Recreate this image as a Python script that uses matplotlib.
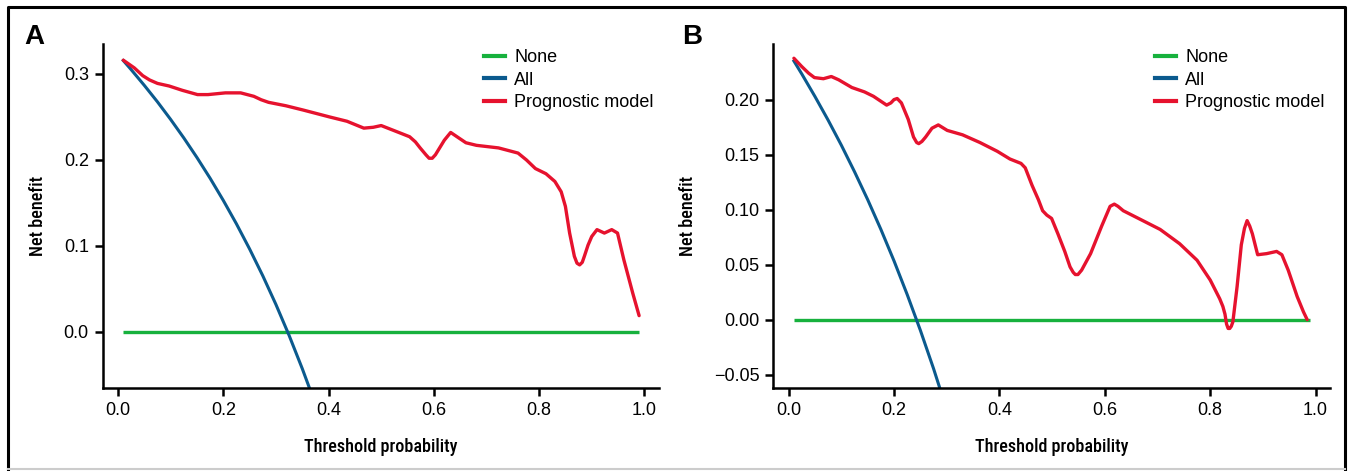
import matplotlib
matplotlib.use("Agg")
import matplotlib.pyplot as plt
from matplotlib.lines import Line2D
from matplotlib import font_manager

plt.rcParams['font.family'] = ['Liberation Sans', 'DejaVu Sans']

# pick a narrow family for the axis titles if one is there
names = set(f.name for f in font_manager.fontManager.ttflist)
label_family = ['Roboto']
for cand in ['Roboto Condensed', 'Liberation Sans Narrow', 'Open Sans Condensed', 'DejaVu Sans Condensed']:
    if cand in names:
        label_family = [cand]
        break
print(label_family, sorted(n for n in names if 'ondens' in n or 'arrow' in n))

# colours
c_none = '#17B13D'
c_all = '#0B5A8E'
c_model = '#E6122E'

# ---- panel A data ----
a_none_x = [0.01, 0.99]
a_none_y = [0.0, 0.0]

a_all_x = [0.01, 0.025, 0.05, 0.075, 0.10, 0.125, 0.15, 0.175, 0.20, 0.225,
           0.25, 0.275, 0.30, 0.325, 0.35, 0.37]
a_all_y = [0.3156, 0.3050, 0.2867, 0.2675, 0.2471, 0.2256, 0.2028, 0.1787, 0.1530, 0.1257,
           0.0965, 0.0654, 0.0320, -0.0039, -0.0425, -0.0756]

a_model_x = [0.010, 0.031, 0.047, 0.060, 0.075, 0.097, 0.122, 0.151, 0.171, 0.204,
             0.233, 0.258, 0.272, 0.286, 0.319, 0.352, 0.402, 0.435, 0.467, 0.485,
             0.500, 0.525, 0.554, 0.565, 0.574, 0.585, 0.591, 0.597, 0.603, 0.612,
             0.620, 0.632, 0.644, 0.661, 0.681, 0.723, 0.760, 0.776, 0.793, 0.813,
             0.830, 0.842, 0.850, 0.858, 0.867, 0.872, 0.877, 0.882, 0.886, 0.893,
             0.900, 0.910, 0.924, 0.938, 0.949, 0.961, 0.978, 0.990]
a_model_y = [0.316, 0.307, 0.298, 0.293, 0.289, 0.286, 0.281, 0.276, 0.276, 0.278,
             0.278, 0.274, 0.270, 0.267, 0.263, 0.258, 0.250, 0.245, 0.237, 0.238,
             0.240, 0.234, 0.227, 0.221, 0.214, 0.206, 0.202, 0.202, 0.206, 0.215,
             0.223, 0.232, 0.227, 0.220, 0.217, 0.214, 0.208, 0.200, 0.190, 0.184,
             0.175, 0.163, 0.146, 0.115, 0.088, 0.080, 0.078, 0.081, 0.088, 0.101,
             0.111, 0.119, 0.115, 0.119, 0.115, 0.084, 0.045, 0.019]

# ---- panel B data ----
b_none_x = [0.01, 0.99]
b_none_y = [0.0, 0.0]

b_all_x = [0.01, 0.025, 0.05, 0.075, 0.10, 0.125, 0.15, 0.175, 0.20, 0.225,
           0.25, 0.275, 0.30]
b_all_y = [0.2351, 0.2233, 0.2028, 0.1813, 0.1586, 0.1345, 0.1091, 0.0821, 0.0534, 0.0228,
           -0.0097, -0.0445, -0.0819]

b_model_x = [0.010, 0.025, 0.038, 0.049, 0.066, 0.081, 0.095, 0.120, 0.144, 0.161,
             0.186, 0.194, 0.200, 0.206, 0.214, 0.227, 0.237, 0.243, 0.247, 0.253,
             0.260, 0.272, 0.284, 0.301, 0.330, 0.363, 0.396, 0.420, 0.441, 0.449,
             0.462, 0.474, 0.482, 0.490, 0.499, 0.511, 0.524, 0.534, 0.540, 0.544,
             0.549, 0.556, 0.573, 0.594, 0.610, 0.618, 0.625, 0.635, 0.668, 0.705,
             0.742, 0.775, 0.800, 0.818, 0.824, 0.828, 0.831, 0.834, 0.837, 0.840,
             0.843, 0.851, 0.859, 0.865, 0.870, 0.875, 0.880, 0.890, 0.907, 0.926,
             0.936, 0.948, 0.965, 0.977, 0.984]
b_model_y = [0.2376, 0.230, 0.224, 0.220, 0.219, 0.221, 0.218, 0.211, 0.207, 0.203,
             0.195, 0.197, 0.200, 0.201, 0.197, 0.182, 0.166, 0.161, 0.160, 0.162,
             0.166, 0.174, 0.177, 0.172, 0.168, 0.161, 0.153, 0.146, 0.142, 0.138,
             0.122, 0.109, 0.099, 0.095, 0.092, 0.078, 0.062, 0.048, 0.043, 0.041,
             0.041, 0.045, 0.060, 0.085, 0.103, 0.105, 0.103, 0.099, 0.091, 0.082,
             0.069, 0.054, 0.036, 0.019, 0.012, 0.005, -0.004, -0.008, -0.008, -0.006,
             -0.002, 0.030, 0.068, 0.083, 0.090, 0.085, 0.078, 0.059, 0.060, 0.062,
             0.059, 0.045, 0.021, 0.007, 0.000]

x_ticks = [0.0, 0.2, 0.4, 0.6, 0.8, 1.0]
a_yticks = [0.0, 0.1, 0.2, 0.3]
b_yticks = [-0.05, 0.0, 0.05, 0.10, 0.15, 0.20]
legend_labels = ['None', 'All', 'Prognostic model']

fig = plt.figure(figsize=(13.52, 4.71), dpi=100)
fig.patch.set_facecolor('white')


def draw_panel(ax, none_x, none_y, all_x, all_y, mod_x, mod_y, yticks, ylim, yfmt):
    ax.plot(none_x, none_y, color=c_none, lw=2.4, solid_capstyle='butt')
    ax.plot(all_x, all_y, color=c_all, lw=2.2, solid_joinstyle='round')
    ax.plot(mod_x, mod_y, color=c_model, lw=2.4, solid_joinstyle='round', solid_capstyle='round')
    ax.set_xlim(-0.029, 1.028)
    ax.set_ylim(*ylim)
    ax.set_xticks(x_ticks)
    ax.set_xticklabels(['%.1f' % v for v in x_ticks])
    ax.set_yticks(yticks)
    ax.set_yticklabels([yfmt % v if v >= 0 else '\u2212' + yfmt % abs(v) for v in yticks])
    for s in ['top', 'right']:
        ax.spines[s].set_visible(False)
    for s in ['left', 'bottom']:
        ax.spines[s].set_linewidth(1.8)
    ax.tick_params(direction='out', length=6, width=1.8, labelsize=13, pad=4)
    ax.set_xlabel('Threshold probability', family=label_family, fontsize=13,
                  fontweight='medium', labelpad=14)
    ax.set_ylabel('Net benefit', family=label_family, fontsize=13,
                  fontweight='medium', labelpad=12)
    handles = [Line2D([], [], color=c, lw=3) for c in (c_none, c_all, c_model)]
    ax.legend(handles, legend_labels, loc='upper left', bbox_to_anchor=(0.686, 0.985),
              frameon=False, fontsize=13, handlelength=1.15, handletextpad=0.5,
              labelspacing=0.29, borderpad=0, borderaxespad=0)


ax_a = fig.add_axes([0.076, 0.177, 0.4115, 0.729])
draw_panel(ax_a, a_none_x, a_none_y, a_all_x, a_all_y, a_model_x, a_model_y,
           a_yticks, (-0.0647, 0.3345), '%.1f')

ax_b = fig.add_axes([0.572, 0.177, 0.412, 0.729])
draw_panel(ax_b, b_none_x, b_none_y, b_all_x, b_all_y, b_model_x, b_model_y,
           b_yticks, (-0.0618, 0.2503), '%.2f')

fig.text(24 / 1352, 1 - 37 / 471, 'A', fontsize=20, fontweight='bold', va='center', ha='left')
fig.text(682 / 1352, 1 - 37 / 471, 'B', fontsize=20, fontweight='bold', va='center', ha='left')

# outer frame
l, r, t, b = 8 / 1352, 1345 / 1352, 1 - 7 / 471, 1 - 469 / 471
fig.add_artist(Line2D([l, l, r, r], [b, t, t, b], color='black', lw=2.2, transform=fig.transFigure))
fig.add_artist(Line2D([l, r], [b, b], color='#cccccc', lw=1.5, transform=fig.transFigure))

fig.savefig('out.png', dpi=100)
